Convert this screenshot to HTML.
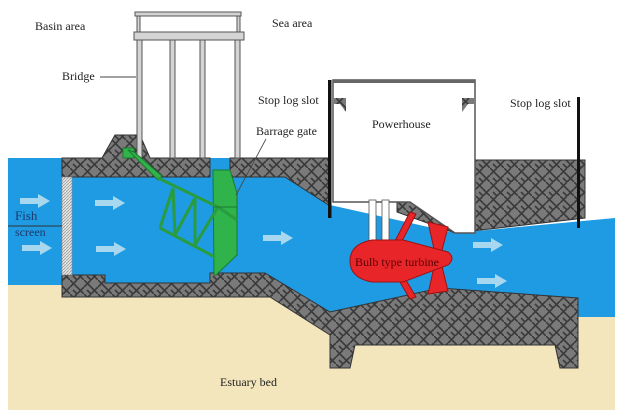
<!DOCTYPE html>
<html><head><meta charset="utf-8"><style>
html,body{margin:0;padding:0;background:#fff;}
svg{display:block;}
text{font-family:"Liberation Serif",serif;font-size:12px;fill:#222;}
</style></head><body>
<svg width="622" height="419" viewBox="0 0 622 419" xmlns="http://www.w3.org/2000/svg">
<defs>
<pattern id="brick" width="14" height="14" patternUnits="userSpaceOnUse">
<rect width="14" height="14" fill="#7a7a7a"/>
<path d="M0 7 L7 0 M7 14 L14 7 M0 0 L7 7 M7 7 L14 14 M3 10 L7 14" stroke="#3a3a3a" stroke-width="1.6" fill="none"/>
</pattern>
<pattern id="hatch" width="3" height="3" patternUnits="userSpaceOnUse">
<rect width="3" height="3" fill="#e8e8e8"/><path d="M0 3 L3 0" stroke="#999" stroke-width="0.8"/>
</pattern>
<g id="arr"><polygon points="0,-3 18,-3 18,-7 30,0 18,7 18,3 0,3" fill="#a8d8ef"/></g>
</defs>
<rect x="8" y="285" width="607" height="125" fill="#f3e6bc"/>
<polygon points="8,158 330,158 330,205 455,233 615,218 615,317 578,317 578,298 440,288 330,312 265,273 210,273 210,285 62,285 8,285" fill="#1e9be2"/>
<g fill="url(#brick)" stroke="#333" stroke-width="1">
<polygon points="62,158 102,158 115,135 140,135 150,158 210,158 210,177 62,177"/>
<polygon points="230,158 330,158 330,206 285,177 230,177"/>
<polygon points="475,160 585,160 585,218 455,233 475,233"/>
<polygon points="397,202 410,202 455,233 397,212"/>
<polygon points="62,275 105,275 105,283 210,283 210,273 265,273 330,312 440,288 578,298 578,368 560,368 555,345 355,345 350,368 330,368 330,335 270,297 62,297"/>
</g>
<polygon points="333,80 475,80 475,233 455,233 410,202 333,202" fill="#fff" stroke="#555" stroke-width="1.5"/>
<rect x="333" y="80" width="142" height="3" fill="#666"/>
<polygon points="334,98 346,98 346,112 340,104 334,104" fill="url(#brick)"/>
<polygon points="462,98 474,98 474,104 468,104 462,112" fill="url(#brick)"/>
<rect x="369" y="200" width="7" height="42" fill="#fff" stroke="#555" stroke-width="0.8"/>
<rect x="382" y="200" width="7" height="42" fill="#fff" stroke="#555" stroke-width="0.8"/>
<rect x="328" y="80" width="3.5" height="138" fill="#111"/>
<rect x="577" y="97" width="3" height="131" fill="#111"/>
<rect x="62" y="177" width="10" height="98" fill="url(#hatch)" stroke="#888" stroke-width="0.6"/>
<line x1="8" y1="226" x2="62" y2="226" stroke="#333" stroke-width="1"/>
<g fill="#d4d4d4" stroke="#555" stroke-width="1">
<rect x="135" y="12" width="106" height="4"/>
<rect x="134" y="32" width="110" height="8"/>
<rect x="137" y="16" width="3" height="16"/><rect x="237" y="16" width="3" height="16"/>
<rect x="137" y="40" width="5" height="118"/>
<rect x="170" y="40" width="5" height="118"/>
<rect x="200" y="40" width="5" height="118"/>
<rect x="235" y="40" width="5" height="118"/>
</g>
<g fill="#2fb34a" stroke="#1b7a2e" stroke-width="1">
<rect x="123" y="148" width="11" height="10"/>
<polygon points="128,150 134,152 162,176 158,180"/>
<polygon points="213,170 230,170 237,193 237,255 216,275 214,275"/>
</g>
<g stroke="#2a9c40" stroke-width="3" fill="none">
<polyline points="158,178 218,207 237,220"/>
<polyline points="160,228 215,257"/>
<line x1="173" y1="188" x2="160" y2="228"/>
<line x1="173" y1="188" x2="175" y2="235"/>
<line x1="175" y1="235" x2="195" y2="198"/>
<line x1="195" y1="198" x2="195" y2="245"/>
<line x1="195" y1="245" x2="218" y2="207"/>
</g>
<line x1="214" y1="207" x2="237" y2="207" stroke="#1b7a2e" stroke-width="1"/>
<g fill="#e8262a" stroke="#a01010" stroke-width="1">
<polygon points="410,212 416,214 400,245 394,243"/>
<polygon points="394,272 400,270 416,297 410,299"/>
<polygon points="428,222 448,227 440,258 448,291 428,294 436,258"/>
<path d="M372,240 L403,240 L448,252 Q456,258 448,265 L403,282 L372,282 Q350,278 350,261 Q350,244 372,240 Z"/>
</g>
<text x="355" y="266" style="fill:#5a0000;font-size:12px">Bulb type turbine</text>
<use href="#arr" x="95" y="203"/><use href="#arr" x="96" y="249"/>
<use href="#arr" x="20" y="201"/><use href="#arr" x="22" y="248"/>
<use href="#arr" x="263" y="238"/>
<use href="#arr" x="473" y="245"/><use href="#arr" x="477" y="281"/>
<text x="15" y="220" style="fill:#1c3a6e;font-size:13px">Fish</text>
<text x="15" y="236" style="fill:#1c3a6e;font-size:12px">screen</text>
<text x="35" y="30">Basin area</text>
<text x="272" y="27">Sea area</text>
<text x="62" y="80">Bridge</text>
<line x1="100" y1="77" x2="136" y2="77" stroke="#444" stroke-width="1"/>
<text x="258" y="104">Stop log slot</text>
<text x="256" y="135">Barrage gate</text>
<line x1="266" y1="139" x2="236" y2="195" stroke="#444" stroke-width="0.8"/>
<text x="372" y="128">Powerhouse</text>
<text x="510" y="107">Stop log slot</text>
<text x="220" y="386">Estuary bed</text>
</svg>
</body></html>
